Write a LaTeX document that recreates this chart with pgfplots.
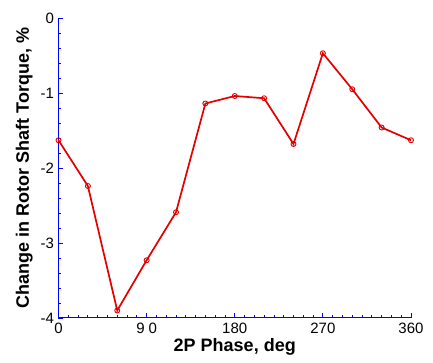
\documentclass[border=0pt]{standalone}
\usepackage{pgfplots}
\pgfplotsset{compat=1.18}
\usepackage{fontspec}
\setmainfont{Liberation Sans}
\definecolor{lred}{RGB}{228,0,0}
\begin{document}
\begin{tikzpicture}
\useasboundingbox (-58.5pt,-45pt) rectangle (374.5pt,318pt);
\begin{axis}[
  at={(0,0)}, anchor=south west,
  scale only axis,
  width=352.5pt, height=300pt,
  xmin=0, xmax=360, ymin=-4, ymax=0,
  axis x line*=bottom, axis y line*=left,
  axis line style={blue, line width=1pt},
  every tick/.style={blue, line width=0.8pt},
  xtick={0,90,180,270,360},
  xticklabels={0,{9\hspace{4pt}0},180,270,360},
  minor x tick num=8,
  ytick={-4,-3,-2,-1,0},
  minor y tick num=4,
  major tick length=5pt, minor tick length=3pt,
  tick align=inside,
  /pgf/number format/assume math mode=true,
  ticklabel style={font=\fontsize{15pt}{17pt}\selectfont},
  xticklabel style={yshift=-1pt},
  yticklabel style={xshift=-1pt},
  xlabel={\textbf{2P Phase, deg}},
  ylabel={\textbf{Change in Rotor Shaft Torque, \%}},
  label style={font=\fontsize{18pt}{20pt}\selectfont},
  xlabel style={yshift=2pt},
  ylabel style={yshift=1pt},
  clip=false,
]
\addplot[lred, line width=1.7pt, mark=o, mark size=2.5pt, mark options={line width=0.9pt}] coordinates {
(0,-1.63) (30,-2.24) (60,-3.90) (90,-3.23) (120,-2.59) (150,-1.14) (180,-1.04) (210,-1.07) (240,-1.68) (270,-0.47) (300,-0.95) (330,-1.46) (360,-1.63)
};
\end{axis}
\end{tikzpicture}
\end{document}
